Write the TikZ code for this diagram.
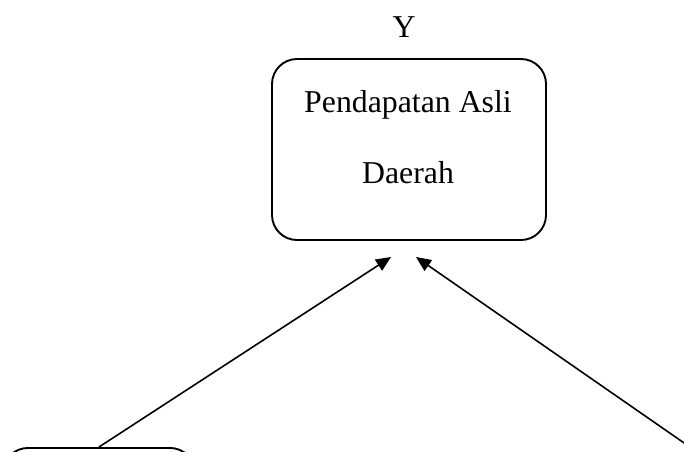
\documentclass[tikz,border=0pt]{standalone}
\usepackage{fontspec}
\setmainfont{Liberation Serif}
\usetikzlibrary{arrows.meta}
\tikzset{
  boxed/.style={draw, line width=1.9pt, rounded corners=25pt, inner sep=0pt},
  lbl/.style={font=\fontsize{31.8}{36}\selectfont, inner sep=0pt, anchor=base},
  arr/.style={line width=1.6pt, -{Triangle[length=15pt,width=13pt]}}
}
\begin{document}
\begin{tikzpicture}[x=1pt,y=1pt]
\useasboundingbox (0,0) rectangle (684,-451);
\clip (0,0) rectangle (684,-451);
\node[boxed, minimum width=274pt, minimum height=181pt] (pad) at (409,-149.5) {};
\node[lbl] (y) at (404,-37) {Y};
\node[lbl] (t1) at (408,-112) {Pendapatan Asli};
\node[lbl] (t2) at (408,-183) {Daerah};
\node[boxed, minimum width=192pt, minimum height=90pt, anchor=north] (x1) at (99,-447) {};
\coordinate (tipl) at (391,-257);
\coordinate (tipr) at (416,-257);
\coordinate (x2) at (700,-454);
\draw[arr] (x1.north) -- (tipl);
\draw[arr] (x2) -- (tipr);
\end{tikzpicture}
\end{document}
